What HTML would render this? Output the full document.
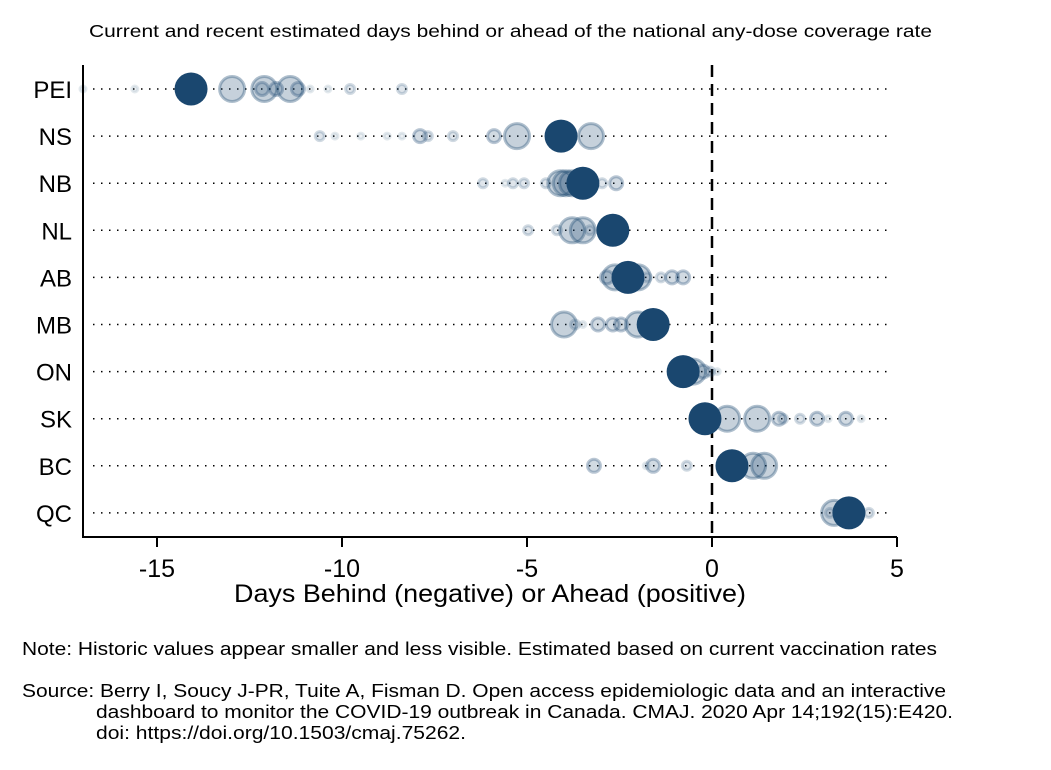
<!DOCTYPE html>
<html><head><meta charset="utf-8"><style>
body{margin:0;background:#fff;width:1051px;height:765px;overflow:hidden;font-family:"Liberation Sans",Arial,sans-serif}
</style></head><body>
<svg id="chart" width="1051" height="765" xmlns="http://www.w3.org/2000/svg" font-family="Liberation Sans, Arial, sans-serif">
<text x="89" y="37" font-size="17.5" textLength="843" lengthAdjust="spacingAndGlyphs">Current and recent estimated days behind or ahead of the national any-dose coverage rate</text>
<g id="plot"></g>
<text x="234" y="602" font-size="25" textLength="512" lengthAdjust="spacingAndGlyphs">Days Behind (negative) or Ahead (positive)</text>
<text x="22" y="655" font-size="18" textLength="915" lengthAdjust="spacingAndGlyphs">Note: Historic values appear smaller and less visible. Estimated based on current vaccination rates</text>
<g font-size="18">
<text x="22" y="697" textLength="924" lengthAdjust="spacingAndGlyphs">Source: Berry I, Soucy J-PR, Tuite A, Fisman D. Open access epidemiologic data and an interactive</text>
<text x="96" y="718" textLength="857" lengthAdjust="spacingAndGlyphs">dashboard to monitor the COVID-19 outbreak in Canada. CMAJ. 2020 Apr 14;192(15):E420.</text>
<text x="96" y="739" textLength="370" lengthAdjust="spacingAndGlyphs">doi: https://doi.org/10.1503/cmaj.75262.</text>
</g>
</svg>
<script>
const provinces = ["PEI","NS","NB","NL","AB","MB","ON","SK","BC","QC"];
const xTicks = [-15,-10,-5,0,5];
// each province: values and matching ages (0 = current, higher = older)
const pointValues = [
 [-17,-15.6,-8.38,-9.78,-10.38,-10.86,-11.19,-11.78,-12.16,-11.4,-12.1,-12.97,-14.08],
 [-10.19,-9.49,-8.78,-8.38,-7.68,-7.0,-10.6,-7.89,-5.89,-5.27,-3.27,-4.08],
 [-5.59,-6.19,-5.38,-5.08,-4.49,-2.97,-2.59,-4.1,-3.95,-3.78,-3.49],
 [-4.97,-4.19,-3.3,-3.78,-3.49,-2.68],
 [-2.84,-1.76,-1.38,-1.08,-0.78,-2.62,-2.0,-2.27],
 [-3.49,-3.7,-3.08,-2.68,-2.46,-4.0,-2.0,-1.59],
 [0.14,-0.05,-0.24,-0.51,-0.78],
 [4.03,3.14,2.38,1.92,3.62,2.84,1.81,0.41,1.22,-0.19],
 [-1.78,-0.68,-3.19,-1.59,1.11,1.41,0.54],
 [3.19,4.24,3.3,3.7]
];
const pointAges = [
 [4,4,3,3,4,4,2,2,2,1,1,1,0],
 [4,4,4,4,3,3,3,2,2,1,1,0],
 [4,3,3,3,3,3,2,1,1,1,0],
 [3,3,3,1,1,0],
 [2,3,3,2,2,1,1,0],
 [4,3,2,2,2,1,1,0],
 [4,3,2,1,0],
 [4,4,3,3,2,2,2,1,1,0],
 [4,3,2,2,1,1,0],
 [3,3,1,0]
];
const NS="http://www.w3.org/2000/svg";
const X0=-17, X1=5, PX0=83, PX1=897, ROW0=89, ROWH=47.1, AXY=537, TOP=65;
const xs=v=>PX0+(v-X0)*(PX1-PX0)/(X1-X0);
const ys=i=>ROW0+i*ROWH;
const plot=document.getElementById('plot');
function mk(tag,attrs){const e=document.createElementNS(NS,tag);for(const k in attrs)e.setAttribute(k,attrs[k]);plot.appendChild(e);return e;}
const radius=[16.5,14,8,6,4.5];
const fillA=[1,0.25,0.2,0.14,0.08];
const strokeA=[0,0.35,0.3,0.2,0.12];
provinces.forEach((p,i)=>{
  const y=ys(i);
  const ln=mk('line',{x1:93,x2:892,y1:y,y2:y,stroke:'#000','stroke-width':1.5,'stroke-dasharray':'1.5 6.5'});
  
  
  const t=mk('text',{x:72,y:y+9,'font-size':24,'text-anchor':'end'});
  t.textContent=p;
  
  
});
const zl=mk('line',{x1:xs(0),x2:xs(0),y1:TOP,y2:AXY,stroke:'#000','stroke-width':2.5,'stroke-dasharray':'12 7'});


provinces.forEach((p,i)=>{
  const y=ys(i);
  pointValues[i].forEach((v,j)=>{
    const a=pointAges[i][j];
    const r=radius[a]-(a>0?1.5:0);
    const c=mk('circle',{cx:xs(v),cy:y,r:r,fill:'rgb(26,71,111)','fill-opacity':fillA[a],stroke:'rgb(26,71,111)','stroke-opacity':strokeA[a],'stroke-width':a>0?3:0});
    
    
  });
});
const ya=mk('line',{x1:PX0,x2:PX0,y1:TOP,y2:AXY+1,stroke:'#000','stroke-width':2});


const xa=mk('line',{x1:PX0,x2:PX1,y1:AXY,y2:AXY,stroke:'#000','stroke-width':2});


xTicks.forEach(v=>{
  const x=xs(v);
  const tk=mk('line',{x1:x,x2:x,y1:AXY,y2:AXY+10,stroke:'#000','stroke-width':2});
  
  
  const t=mk('text',{x:x,y:577,'font-size':25,'text-anchor':'middle'});
  t.textContent=String(v);
  
  
});
</script>
</body></html>
